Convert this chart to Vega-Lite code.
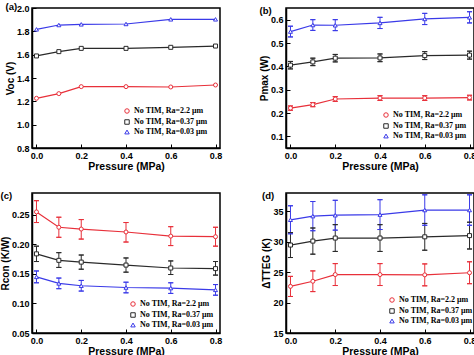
{
  "$schema": "https://vega.github.io/schema/vega-lite/v6.json",
  "padding": {"left": -1, "top": 0, "right": 0, "bottom": 0},
  "background": "white",
  "datasets": {
    "d": [
      {"panel": "a", "s": "No TIM, Ra=2.2 μm", "p": 0.0, "v": 1.226},
      {"panel": "a", "s": "No TIM, Ra=2.2 μm", "p": 0.1, "v": 1.266},
      {"panel": "a", "s": "No TIM, Ra=2.2 μm", "p": 0.2, "v": 1.326},
      {"panel": "a", "s": "No TIM, Ra=2.2 μm", "p": 0.4, "v": 1.326},
      {"panel": "a", "s": "No TIM, Ra=2.2 μm", "p": 0.6, "v": 1.323},
      {"panel": "a", "s": "No TIM, Ra=2.2 μm", "p": 0.8, "v": 1.34},
      {"panel": "a", "s": "No TIM, Ra=0.37 μm", "p": 0.0, "v": 1.589},
      {"panel": "a", "s": "No TIM, Ra=0.37 μm", "p": 0.1, "v": 1.626},
      {"panel": "a", "s": "No TIM, Ra=0.37 μm", "p": 0.2, "v": 1.654},
      {"panel": "a", "s": "No TIM, Ra=0.37 μm", "p": 0.4, "v": 1.654},
      {"panel": "a", "s": "No TIM, Ra=0.37 μm", "p": 0.6, "v": 1.663},
      {"panel": "a", "s": "No TIM, Ra=0.37 μm", "p": 0.8, "v": 1.674},
      {"panel": "a", "s": "No TIM, Ra=0.03 μm", "p": 0.0, "v": 1.817},
      {"panel": "a", "s": "No TIM, Ra=0.03 μm", "p": 0.1, "v": 1.854},
      {"panel": "a", "s": "No TIM, Ra=0.03 μm", "p": 0.2, "v": 1.86},
      {"panel": "a", "s": "No TIM, Ra=0.03 μm", "p": 0.4, "v": 1.863},
      {"panel": "a", "s": "No TIM, Ra=0.03 μm", "p": 0.6, "v": 1.903},
      {"panel": "a", "s": "No TIM, Ra=0.03 μm", "p": 0.8, "v": 1.903},

      {"panel": "b", "s": "No TIM, Ra=2.2 μm", "p": 0.0, "v": 0.221, "lo": 0.212, "hi": 0.230},
      {"panel": "b", "s": "No TIM, Ra=2.2 μm", "p": 0.1, "v": 0.236, "lo": 0.227, "hi": 0.245},
      {"panel": "b", "s": "No TIM, Ra=2.2 μm", "p": 0.2, "v": 0.26, "lo": 0.250, "hi": 0.270},
      {"panel": "b", "s": "No TIM, Ra=2.2 μm", "p": 0.4, "v": 0.264, "lo": 0.254, "hi": 0.274},
      {"panel": "b", "s": "No TIM, Ra=2.2 μm", "p": 0.6, "v": 0.264, "lo": 0.254, "hi": 0.274},
      {"panel": "b", "s": "No TIM, Ra=2.2 μm", "p": 0.8, "v": 0.266, "lo": 0.256, "hi": 0.276},
      {"panel": "b", "s": "No TIM, Ra=0.37 μm", "p": 0.0, "v": 0.405, "lo": 0.389, "hi": 0.421},
      {"panel": "b", "s": "No TIM, Ra=0.37 μm", "p": 0.1, "v": 0.419, "lo": 0.403, "hi": 0.435},
      {"panel": "b", "s": "No TIM, Ra=0.37 μm", "p": 0.2, "v": 0.435, "lo": 0.419, "hi": 0.451},
      {"panel": "b", "s": "No TIM, Ra=0.37 μm", "p": 0.4, "v": 0.436, "lo": 0.420, "hi": 0.453},
      {"panel": "b", "s": "No TIM, Ra=0.37 μm", "p": 0.6, "v": 0.446, "lo": 0.429, "hi": 0.463},
      {"panel": "b", "s": "No TIM, Ra=0.37 μm", "p": 0.8, "v": 0.448, "lo": 0.431, "hi": 0.465},
      {"panel": "b", "s": "No TIM, Ra=0.03 μm", "p": 0.0, "v": 0.549, "lo": 0.526, "hi": 0.572},
      {"panel": "b", "s": "No TIM, Ra=0.03 μm", "p": 0.1, "v": 0.577, "lo": 0.554, "hi": 0.600},
      {"panel": "b", "s": "No TIM, Ra=0.03 μm", "p": 0.2, "v": 0.576, "lo": 0.553, "hi": 0.600},
      {"panel": "b", "s": "No TIM, Ra=0.03 μm", "p": 0.4, "v": 0.586, "lo": 0.562, "hi": 0.610},
      {"panel": "b", "s": "No TIM, Ra=0.03 μm", "p": 0.6, "v": 0.603, "lo": 0.579, "hi": 0.627},
      {"panel": "b", "s": "No TIM, Ra=0.03 μm", "p": 0.8, "v": 0.61, "lo": 0.586, "hi": 0.634},

      {"panel": "c", "s": "No TIM, Ra=2.2 μm", "p": 0.0, "v": 0.255, "lo": 0.237, "hi": 0.274},
      {"panel": "c", "s": "No TIM, Ra=2.2 μm", "p": 0.1, "v": 0.229, "lo": 0.212, "hi": 0.246},
      {"panel": "c", "s": "No TIM, Ra=2.2 μm", "p": 0.2, "v": 0.226, "lo": 0.209, "hi": 0.242},
      {"panel": "c", "s": "No TIM, Ra=2.2 μm", "p": 0.4, "v": 0.221, "lo": 0.204, "hi": 0.237},
      {"panel": "c", "s": "No TIM, Ra=2.2 μm", "p": 0.6, "v": 0.214, "lo": 0.198, "hi": 0.230},
      {"panel": "c", "s": "No TIM, Ra=2.2 μm", "p": 0.8, "v": 0.213, "lo": 0.197, "hi": 0.229},
      {"panel": "c", "s": "No TIM, Ra=0.37 μm", "p": 0.0, "v": 0.184, "lo": 0.171, "hi": 0.197},
      {"panel": "c", "s": "No TIM, Ra=0.37 μm", "p": 0.1, "v": 0.173, "lo": 0.161, "hi": 0.186},
      {"panel": "c", "s": "No TIM, Ra=0.37 μm", "p": 0.2, "v": 0.170, "lo": 0.158, "hi": 0.182},
      {"panel": "c", "s": "No TIM, Ra=0.37 μm", "p": 0.4, "v": 0.165, "lo": 0.153, "hi": 0.177},
      {"panel": "c", "s": "No TIM, Ra=0.37 μm", "p": 0.6, "v": 0.160, "lo": 0.149, "hi": 0.172},
      {"panel": "c", "s": "No TIM, Ra=0.37 μm", "p": 0.8, "v": 0.159, "lo": 0.148, "hi": 0.171},
      {"panel": "c", "s": "No TIM, Ra=0.03 μm", "p": 0.0, "v": 0.145, "lo": 0.135, "hi": 0.155},
      {"panel": "c", "s": "No TIM, Ra=0.03 μm", "p": 0.1, "v": 0.134, "lo": 0.125, "hi": 0.143},
      {"panel": "c", "s": "No TIM, Ra=0.03 μm", "p": 0.2, "v": 0.130, "lo": 0.121, "hi": 0.139},
      {"panel": "c", "s": "No TIM, Ra=0.03 μm", "p": 0.4, "v": 0.127, "lo": 0.118, "hi": 0.136},
      {"panel": "c", "s": "No TIM, Ra=0.03 μm", "p": 0.6, "v": 0.126, "lo": 0.117, "hi": 0.135},
      {"panel": "c", "s": "No TIM, Ra=0.03 μm", "p": 0.8, "v": 0.123, "lo": 0.114, "hi": 0.132},

      {"panel": "d", "s": "No TIM, Ra=2.2 μm", "p": 0.0, "v": 22.66, "lo": 21.0, "hi": 24.3},
      {"panel": "d", "s": "No TIM, Ra=2.2 μm", "p": 0.1, "v": 23.5, "lo": 21.8, "hi": 25.2},
      {"panel": "d", "s": "No TIM, Ra=2.2 μm", "p": 0.2, "v": 24.6, "lo": 22.8, "hi": 26.4},
      {"panel": "d", "s": "No TIM, Ra=2.2 μm", "p": 0.4, "v": 24.6, "lo": 22.8, "hi": 26.4},
      {"panel": "d", "s": "No TIM, Ra=2.2 μm", "p": 0.6, "v": 24.55, "lo": 22.75, "hi": 26.35},
      {"panel": "d", "s": "No TIM, Ra=2.2 μm", "p": 0.8, "v": 24.9, "lo": 23.1, "hi": 26.7},
      {"panel": "d", "s": "No TIM, Ra=0.37 μm", "p": 0.0, "v": 29.45, "lo": 27.4, "hi": 31.5},
      {"panel": "d", "s": "No TIM, Ra=0.37 μm", "p": 0.1, "v": 30.1, "lo": 27.95, "hi": 32.25},
      {"panel": "d", "s": "No TIM, Ra=0.37 μm", "p": 0.2, "v": 30.6, "lo": 28.4, "hi": 32.8},
      {"panel": "d", "s": "No TIM, Ra=0.37 μm", "p": 0.4, "v": 30.6, "lo": 28.4, "hi": 32.8},
      {"panel": "d", "s": "No TIM, Ra=0.37 μm", "p": 0.6, "v": 30.8, "lo": 28.6, "hi": 33.0},
      {"panel": "d", "s": "No TIM, Ra=0.37 μm", "p": 0.8, "v": 31.0, "lo": 28.8, "hi": 33.2},
      {"panel": "d", "s": "No TIM, Ra=0.03 μm", "p": 0.0, "v": 33.6, "lo": 31.3, "hi": 35.9},
      {"panel": "d", "s": "No TIM, Ra=0.03 μm", "p": 0.1, "v": 34.2, "lo": 31.8, "hi": 36.6},
      {"panel": "d", "s": "No TIM, Ra=0.03 μm", "p": 0.2, "v": 34.35, "lo": 31.9, "hi": 36.8},
      {"panel": "d", "s": "No TIM, Ra=0.03 μm", "p": 0.4, "v": 34.45, "lo": 32.0, "hi": 36.9},
      {"panel": "d", "s": "No TIM, Ra=0.03 μm", "p": 0.6, "v": 35.2, "lo": 32.7, "hi": 37.7},
      {"panel": "d", "s": "No TIM, Ra=0.03 μm", "p": 0.8, "v": 35.2, "lo": 32.7, "hi": 37.7}
    ]
  },
  "data": {"name": "d"},
  "columns": 2,
  "spacing": {"row": 45, "column": 66},
  "bounds": "flush",
  "concat": [
    {
      "width": 188, "height": 140,
      "title": {"text": "(a)"},
      "transform": [{"filter": "datum.panel == 'a'"}],
      "encoding": {
        "x": {"field": "p", "type": "quantitative", "title": "Pressure (MPa)", "scale": {"domain": [-0.02, 0.82], "nice": false, "zero": false}, "axis": {"values": [0, 0.2, 0.4, 0.6, 0.8], "format": ".1f"}},
        "y": {"field": "v", "type": "quantitative", "title": "Voc (V)", "scale": {"domain": [0.8, 2.0], "nice": false, "zero": false}, "axis": {"values": [0.8, 1.0, 1.2, 1.4, 1.6, 1.8, 2.0], "format": ".1f"}},
        "stroke": {"field": "s", "type": "nominal", "scale": {"domain": ["No TIM, Ra=2.2 μm", "No TIM, Ra=0.37 μm", "No TIM, Ra=0.03 μm"], "range": ["#e8303a", "#2a2a2a", "#3a3ae8"]}, "legend": {"orient": "none", "legendX": 91, "legendY": 99, "title": null, "encode": {"symbols": {"update": {"fill": {"value": "white"}}}}}},
        "shape": {"field": "s", "type": "nominal", "scale": {"domain": ["No TIM, Ra=2.2 μm", "No TIM, Ra=0.37 μm", "No TIM, Ra=0.03 μm"], "range": ["circle", "square", "triangle-up"]}, "legend": {"orient": "none", "legendX": 91, "legendY": 99, "title": null, "encode": {"symbols": {"update": {"fill": {"value": "white"}}}}}}
      },
      "layer": [
        {"mark": {"type": "line", "strokeWidth": 1.2}, "encoding": {"shape": null}},
        {"mark": {"type": "point", "filled": false, "fill": "white", "size": 16, "strokeWidth": 1, "opacity": 1}}
      ]
    },
    {
      "width": 188, "height": 140,
      "title": {"text": "(b)"},
      "transform": [{"filter": "datum.panel == 'b'"}],
      "encoding": {
        "x": {"field": "p", "type": "quantitative", "title": "Pressure (MPa)", "scale": {"domain": [-0.02, 0.82], "nice": false, "zero": false}, "axis": {"values": [0, 0.2, 0.4, 0.6, 0.8], "format": ".1f"}},
        "y": {"field": "v", "type": "quantitative", "title": "Pmax (W)", "scale": {"domain": [0.05, 0.65], "nice": false, "zero": false}, "axis": {"values": [0.1, 0.2, 0.3, 0.4, 0.5, 0.6], "format": ".1f"}},
        "stroke": {"field": "s", "type": "nominal", "scale": {"domain": ["No TIM, Ra=2.2 μm", "No TIM, Ra=0.37 μm", "No TIM, Ra=0.03 μm"], "range": ["#e8303a", "#2a2a2a", "#3a3ae8"]}, "legend": {"orient": "none", "legendX": 96, "legendY": 103, "title": null, "encode": {"symbols": {"update": {"fill": {"value": "white"}}}}}},
        "shape": {"field": "s", "type": "nominal", "scale": {"domain": ["No TIM, Ra=2.2 μm", "No TIM, Ra=0.37 μm", "No TIM, Ra=0.03 μm"], "range": ["circle", "square", "triangle-up"]}, "legend": {"orient": "none", "legendX": 96, "legendY": 103, "title": null, "encode": {"symbols": {"update": {"fill": {"value": "white"}}}}}}
      },
      "layer": [
        {"mark": {"type": "rule", "strokeWidth": 1}, "encoding": {"y": {"field": "lo", "type": "quantitative", "title": "Pmax (W)", "axis": {"values": [0.1, 0.2, 0.3, 0.4, 0.5, 0.6], "format": ".1f"}}, "y2": {"field": "hi"}, "shape": null}},
        {"mark": {"type": "tick", "orient": "horizontal", "size": 5, "thickness": 0.01, "filled": false, "fillOpacity": 0, "strokeWidth": 1}, "encoding": {"y": {"field": "lo", "type": "quantitative", "title": "Pmax (W)", "axis": {"values": [0.1, 0.2, 0.3, 0.4, 0.5, 0.6], "format": ".1f"}}, "shape": null}},
        {"mark": {"type": "tick", "orient": "horizontal", "size": 5, "thickness": 0.01, "filled": false, "fillOpacity": 0, "strokeWidth": 1}, "encoding": {"y": {"field": "hi", "type": "quantitative", "title": "Pmax (W)", "axis": {"values": [0.1, 0.2, 0.3, 0.4, 0.5, 0.6], "format": ".1f"}}, "shape": null}},
        {"mark": {"type": "line", "strokeWidth": 1.2}, "encoding": {"shape": null}},
        {"mark": {"type": "point", "filled": false, "fill": "white", "size": 16, "strokeWidth": 1, "opacity": 1}}
      ]
    },
    {
      "width": 188, "height": 140,
      "title": {"text": "(c)"},
      "transform": [{"filter": "datum.panel == 'c'"}],
      "encoding": {
        "x": {"field": "p", "type": "quantitative", "title": "Pressure (MPa)", "scale": {"domain": [-0.02, 0.82], "nice": false, "zero": false}, "axis": {"values": [0, 0.2, 0.4, 0.6, 0.8], "format": ".1f"}},
        "y": {"field": "v", "type": "quantitative", "title": "Rcon (K/W)", "scale": {"domain": [0.05, 0.287], "nice": false, "zero": false}, "axis": {"values": [0.05, 0.1, 0.15, 0.2, 0.25], "format": ".2f"}},
        "stroke": {"field": "s", "type": "nominal", "scale": {"domain": ["No TIM, Ra=2.2 μm", "No TIM, Ra=0.37 μm", "No TIM, Ra=0.03 μm"], "range": ["#e8303a", "#2a2a2a", "#3a3ae8"]}, "legend": {"orient": "none", "legendX": 97, "legendY": 107, "title": null, "encode": {"symbols": {"update": {"fill": {"value": "white"}}}}}},
        "shape": {"field": "s", "type": "nominal", "scale": {"domain": ["No TIM, Ra=2.2 μm", "No TIM, Ra=0.37 μm", "No TIM, Ra=0.03 μm"], "range": ["circle", "square", "triangle-up"]}, "legend": {"orient": "none", "legendX": 97, "legendY": 107, "title": null, "encode": {"symbols": {"update": {"fill": {"value": "white"}}}}}}
      },
      "layer": [
        {"mark": {"type": "rule", "strokeWidth": 1}, "encoding": {"y": {"field": "lo", "type": "quantitative", "title": "Rcon (K/W)", "axis": {"values": [0.05, 0.1, 0.15, 0.2, 0.25], "format": ".2f"}}, "y2": {"field": "hi"}, "shape": null}},
        {"mark": {"type": "tick", "orient": "horizontal", "size": 5, "thickness": 0.01, "filled": false, "fillOpacity": 0, "strokeWidth": 1}, "encoding": {"y": {"field": "lo", "type": "quantitative", "title": "Rcon (K/W)", "axis": {"values": [0.05, 0.1, 0.15, 0.2, 0.25], "format": ".2f"}}, "shape": null}},
        {"mark": {"type": "tick", "orient": "horizontal", "size": 5, "thickness": 0.01, "filled": false, "fillOpacity": 0, "strokeWidth": 1}, "encoding": {"y": {"field": "hi", "type": "quantitative", "title": "Rcon (K/W)", "axis": {"values": [0.05, 0.1, 0.15, 0.2, 0.25], "format": ".2f"}}, "shape": null}},
        {"mark": {"type": "line", "strokeWidth": 1.2}, "encoding": {"shape": null}},
        {"mark": {"type": "point", "filled": false, "fill": "white", "size": 16, "strokeWidth": 1, "opacity": 1}}
      ]
    },
    {
      "width": 188, "height": 140,
      "title": {"text": "(d)"},
      "transform": [{"filter": "datum.panel == 'd'"}],
      "encoding": {
        "x": {"field": "p", "type": "quantitative", "title": "Pressure (MPa)", "scale": {"domain": [-0.02, 0.82], "nice": false, "zero": false}, "axis": {"values": [0, 0.2, 0.4, 0.6, 0.8], "format": ".1f"}},
        "y": {"field": "v", "type": "quantitative", "title": "ΔTTEG (K)", "scale": {"domain": [15, 38], "nice": false, "zero": false}, "axis": {"values": [15, 20, 25, 30, 35], "format": "d"}},
        "stroke": {"field": "s", "type": "nominal", "scale": {"domain": ["No TIM, Ra=2.2 μm", "No TIM, Ra=0.37 μm", "No TIM, Ra=0.03 μm"], "range": ["#e8303a", "#2a2a2a", "#3a3ae8"]}, "legend": {"orient": "none", "legendX": 102, "legendY": 103, "title": null, "encode": {"symbols": {"update": {"fill": {"value": "white"}}}}}},
        "shape": {"field": "s", "type": "nominal", "scale": {"domain": ["No TIM, Ra=2.2 μm", "No TIM, Ra=0.37 μm", "No TIM, Ra=0.03 μm"], "range": ["circle", "square", "triangle-up"]}, "legend": {"orient": "none", "legendX": 102, "legendY": 103, "title": null, "encode": {"symbols": {"update": {"fill": {"value": "white"}}}}}}
      },
      "layer": [
        {"mark": {"type": "rule", "strokeWidth": 1}, "encoding": {"y": {"field": "lo", "type": "quantitative", "title": "ΔTTEG (K)", "axis": {"values": [15, 20, 25, 30, 35], "format": "d"}}, "y2": {"field": "hi"}, "shape": null}},
        {"mark": {"type": "tick", "orient": "horizontal", "size": 5, "thickness": 0.01, "filled": false, "fillOpacity": 0, "strokeWidth": 1}, "encoding": {"y": {"field": "lo", "type": "quantitative", "title": "ΔTTEG (K)", "axis": {"values": [15, 20, 25, 30, 35], "format": "d"}}, "shape": null}},
        {"mark": {"type": "tick", "orient": "horizontal", "size": 5, "thickness": 0.01, "filled": false, "fillOpacity": 0, "strokeWidth": 1}, "encoding": {"y": {"field": "hi", "type": "quantitative", "title": "ΔTTEG (K)", "axis": {"values": [15, 20, 25, 30, 35], "format": "d"}}, "shape": null}},
        {"mark": {"type": "line", "strokeWidth": 1.2}, "encoding": {"shape": null}},
        {"mark": {"type": "point", "filled": false, "fill": "white", "size": 16, "strokeWidth": 1, "opacity": 1}}
      ]
    }
  ],
  "resolve": {"scale": {"y": "independent", "stroke": "independent", "shape": "independent"}, "legend": {"stroke": "independent", "shape": "independent"}},
  "config": {
    "font": "Liberation Sans",
    "view": {"stroke": "black", "strokeWidth": 1.5},
    "axis": {"labelFont": "Liberation Sans", "labelFontWeight": "bold", "labelFontSize": 9, "labelColor": "black", "titleFont": "Liberation Sans", "titleFontWeight": "bold", "titleFontSize": 10, "titleColor": "black", "domainColor": "black", "domainWidth": 1.5, "tickColor": "black", "tickSize": -4, "tickWidth": 1, "grid": false, "labelOverlap": false, "titlePadding": 1},
    "axisY": {"labelPadding": 7},
    "axisX": {"labelPadding": 7, "titlePadding": 1, "titleFontSize": 10.5},
    "title": {"font": "Liberation Sans", "fontSize": 9.5, "fontWeight": "bold", "anchor": "start", "frame": "bounds", "offset": -7, "color": "black"},
    "legend": {"labelFont": "Liberation Serif", "labelFontWeight": "bold", "labelFontSize": 8, "labelColor": "black", "symbolSize": 20, "symbolStrokeWidth": 1, "symbolFillColor": "white", "rowPadding": 1, "padding": 0, "labelOffset": 3, "labelLimit": 200}
  }
}
